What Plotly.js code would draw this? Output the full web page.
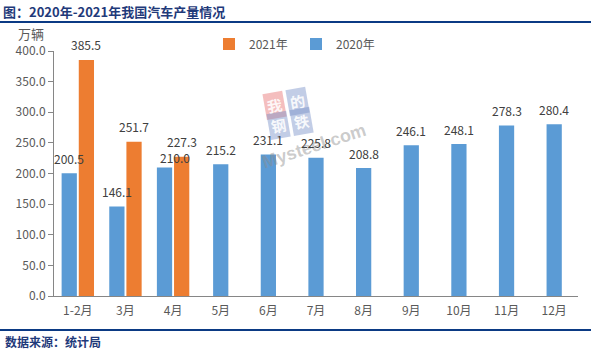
<!DOCTYPE html>
<html>
<head>
<meta charset="utf-8">
<script src="https://cdn.plot.ly/plotly-3.0.1.min.js"></script>
<style>html,body{margin:0;padding:0;background:#fff;}#chart{width:591px;height:351px;}</style>
</head>
<body>
<div id="chart"></div>
<script>
// ---- data ----
var months = ['1-2月','3月','4月','5月','6月','7月','8月','9月','10月','11月','12月'];
var prod2020 = [200.5, 146.1, 210.0, 215.2, 231.1, 225.8, 208.8, 246.1, 248.1, 278.3, 280.4];
var prod2021 = [385.5, 251.7, 227.3, null, null, null, null, null, null, null, null];
var name2020 = '2020年';
var name2021 = '2021年';
var yTicks = [0, 50, 100, 150, 200, 250, 300, 350, 400];

// ---- layout helpers ----
var W = 591, H = 351;
var M = {l: 54, r: 13, t: 51, b: 55};
var PW = W - M.l - M.r, PH = H - M.t - M.b;
var CATW = PW / months.length;
function px2x(px) { return (px - M.l) / PW; }
function px2y(py) { return (H - M.b - py) / PH; }

var FONT = '"Noto Sans CJK SC", "Microsoft YaHei", sans-serif';
var BLUE = '#5B9BD5', ORANGE = '#ED7D31';
var NAVY_TXT = '#1F3A7A', NAVY_LINE = '#0B3A84';
var BW = 0.32;

var blueOffset = prod2021.map(function (v) { return v === null ? -BW / 2 : -0.34; });
var orangeOffset = prod2021.map(function () { return 0.02; });

var t2021 = {
  type: 'bar', name: name2021, x: months, y: prod2021,
  width: BW, offset: orangeOffset,
  marker: {color: ORANGE},
  legend: 'legend', hoverinfo: 'skip'
};
var t2020 = {
  type: 'bar', name: name2020, x: months, y: prod2020,
  width: BW, offset: blueOffset,
  marker: {color: BLUE},
  legend: 'legend2', hoverinfo: 'skip'
};

// data labels (library annotations placed at each bar's value)
var labelAnns = [];
function addLabels(vals, offs, nudge) {
  vals.forEach(function (v, i) {
    if (v === null) return;
    var n = (nudge && nudge(i)) || {dx: 0, dy: 0};
    labelAnns.push({
      xref: 'x', yref: 'y', x: months[i], y: v, text: v.toFixed(1), showarrow: false,
      xanchor: 'center', yanchor: 'middle',
      xshift: (offs[i] + BW / 2) * CATW + n.dx, yshift: 15 + n.dy,
      font: {family: FONT, size: 12, color: '#404040'}
    });
  });
}
addLabels(prod2021, orangeOffset);
// the 2020 label beside a taller 2021 bar sits a little lower and to the right, as in the source
addLabels(prod2020, blueOffset, function (i) {
  return (prod2021[i] !== null && prod2021[i] - prod2020[i] < 30) ? {dx: 10, dy: -5} : null;
});

function wm(txt, px, py, bg) {
  return {xref: 'paper', yref: 'paper', x: px2x(px), y: px2y(py), text: '<b>' + txt + '</b>',
    showarrow: false, textangle: -10, bgcolor: bg, borderpad: 2,
    font: {family: FONT, size: 15, color: 'rgba(255,255,255,0.9)'}};
}

var layout = {
  width: W, height: H,
  margin: M,
  paper_bgcolor: '#fff', plot_bgcolor: '#fff',
  barmode: 'overlay',
  font: {family: FONT, size: 12, color: '#595959'},
  title: {
    text: '<b>图：2020年-2021年我国汽车产量情况</b>',
    xref: 'container', yref: 'container', x: 3 / W, xanchor: 'left',
    y: 1 - 12 / H, yanchor: 'middle',
    font: {family: FONT, size: 13, color: NAVY_TXT}
  },
  xaxis: {
    type: 'category', range: [-0.5, months.length - 0.5],
    showline: true, linecolor: '#868686', linewidth: 1,
    ticks: '', showgrid: false, zeroline: false, ticklabelstandoff: 4,
    tickfont: {family: FONT, size: 12, color: '#595959'}
  },
  yaxis: {
    range: [0, 400], tickvals: yTicks, tickformat: '.1f',
    showline: true, linecolor: '#868686', linewidth: 1,
    ticks: 'outside', ticklen: 5, tickcolor: '#868686',
    showgrid: false, zeroline: false,
    tickfont: {family: FONT, size: 12, color: '#595959'}
  },
  showlegend: true,
  legend: {orientation: 'h', x: px2x(209), xanchor: 'left', y: px2y(44), yanchor: 'middle',
    bgcolor: 'rgba(0,0,0,0)', font: {family: FONT, size: 12, color: '#595959'}},
  legend2: {orientation: 'h', x: px2x(296), xanchor: 'left', y: px2y(44), yanchor: 'middle',
    bgcolor: 'rgba(0,0,0,0)', font: {family: FONT, size: 12, color: '#595959'}},
  shapes: [
    {type: 'line', xref: 'paper', yref: 'paper', x0: px2x(0), x1: px2x(W), y0: px2y(22), y1: px2y(22),
      line: {color: NAVY_LINE, width: 2}},
    {type: 'line', xref: 'paper', yref: 'paper', x0: px2x(0), x1: px2x(W), y0: px2y(330), y1: px2y(330),
      line: {color: NAVY_LINE, width: 2}}
  ],
  annotations: [
    {xref: 'paper', yref: 'paper', x: px2x(31), y: px2y(33), text: '万辆', showarrow: false,
      xanchor: 'center', yanchor: 'middle', font: {family: FONT, size: 13, color: '#595959'}},
    {xref: 'paper', yref: 'paper', x: px2x(3), y: px2y(341), text: '<b>数据来源：统计局</b>', showarrow: false,
      xanchor: 'left', yanchor: 'middle', font: {family: FONT, size: 12, color: NAVY_TXT}},
    wm('我', 274, 90, 'rgba(230,110,110,0.45)'),
    wm('的', 297, 86, 'rgba(120,145,200,0.45)'),
    wm('钢', 278, 110, 'rgba(120,145,200,0.45)'),
    wm('铁', 301, 106, 'rgba(120,145,200,0.45)'),
    {xref: 'paper', yref: 'paper', x: px2x(314), y: px2y(117), text: '<b>Mysteel.com</b>', showarrow: false,
      textangle: -18, font: {family: 'Liberation Sans, Arial, sans-serif', size: 18, color: 'rgba(140,140,140,0.45)'}}
  ].concat(labelAnns)
};

Plotly.newPlot('chart', [t2021, t2020], layout, {displayModeBar: false, staticPlot: true});
</script>
</body>
</html>
